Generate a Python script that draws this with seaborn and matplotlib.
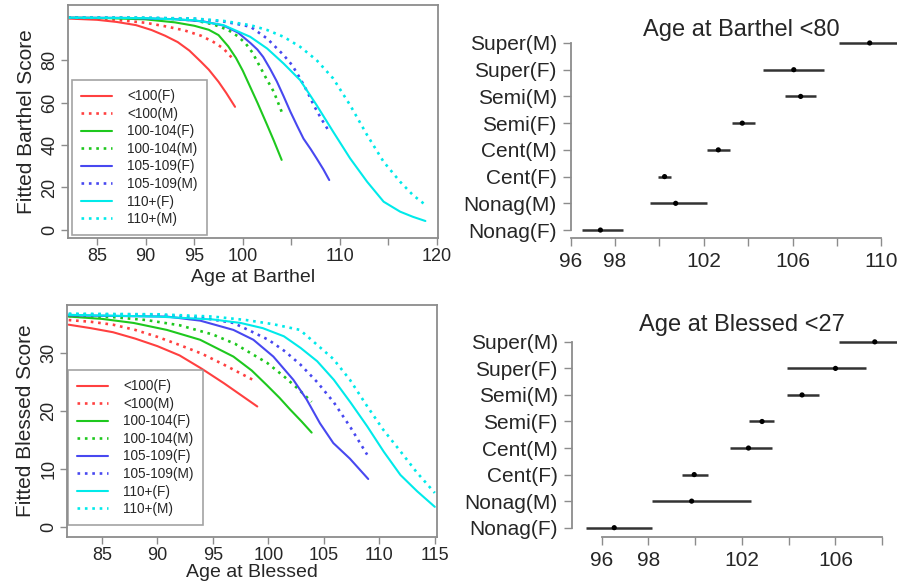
import matplotlib
matplotlib.use("Agg")
import matplotlib.pyplot as plt
import seaborn as sns
import pandas as pd

# --- Fitted Barthel curves (age, score) ---
b_lt100_f_age = [82, 85, 87, 89, 90.6, 92, 93.3, 94.5, 95.7, 96.5, 97.5, 98.3, 99.2]
b_lt100_f_val = [99.6, 99.0, 98.0, 96.5, 94.2, 91.5, 88.5, 84.5, 79.2, 75.5, 69.8, 64.5, 58.0]
b_lt100_m_age = [82, 86, 90, 92.3, 94, 95.7, 97, 98, 99]
b_lt100_m_val = [100, 99.4, 97.6, 95.7, 94.0, 91.5, 88.5, 85.5, 80.5]
b_100_f_age = [82, 86, 90, 93, 95, 96.5, 97.5, 98.5, 99.3, 100, 100.8, 101.5, 102.5, 103.2, 104]
b_100_f_val = [100, 99.8, 99.2, 97.8, 96.2, 94.3, 91.8, 86.5, 81, 75, 67, 60, 49.5, 42, 33]
b_100_m_age = [82, 88, 92, 95, 97, 98.5, 99.5, 100.3, 101, 101.7, 102.4, 103.2, 104]
b_100_m_val = [100, 99.9, 99.6, 98.8, 96.8, 94.2, 91.2, 87.8, 83.5, 77.5, 71.5, 65, 55.7]
b_105_f_age = [82, 88, 93, 96, 98, 99.5, 100.8, 101.5, 102.1, 102.8, 103.5, 104.2, 104.9,
               105.6, 106.25, 107, 107.6, 108.3, 108.9]
b_105_f_val = [100, 99.9, 99.3, 98.2, 96.3, 93, 88, 85, 81.5, 76, 70, 63, 55.7,
               49, 43, 38, 33.7, 28.5, 23.5]
b_105_m_age = [82, 90, 95, 98, 100, 100.8, 102.5, 104.2, 105.1, 105.9, 106.6, 107.3, 108, 108.8]
b_105_m_val = [100, 99.9, 99.5, 98.2, 96.5, 95.7, 90.2, 82.4, 77.5, 71.4, 65.5, 58.8, 53, 47]
b_110_f_age = [82, 90, 95, 98, 100.76, 102.5, 104.2, 105.9, 107.6, 109.3, 111.05, 112.8,
               114.5, 116.2, 117.5, 118.8]
b_110_f_val = [100, 99.8, 98.8, 96.5, 91, 85.5, 78.4, 70.6, 58.8, 46.3, 33.7, 22.7,
               13.3, 8.6, 6.2, 4.2]
b_110_m_age = [82, 90, 95, 98, 100.76, 102.5, 104.2, 105.9, 107.6, 109.3, 111.05, 112.8,
               114.5, 116.2, 117.5, 118.8]
b_110_m_val = [100, 100, 99.6, 98.5, 96.5, 94.2, 91, 86.3, 80, 71.4, 58.8, 44.7,
               32.1, 22.7, 16.5, 11.8]

# --- Fitted Blessed curves (age, score) ---
s_lt100_f_age = [82, 84, 86, 88, 90, 92, 94, 96, 97.5, 99]
s_lt100_f_val = [34.9, 34.3, 33.6, 32.5, 31.2, 29.6, 27.3, 24.8, 22.8, 20.8]
s_lt100_m_age = [82, 84, 86, 88, 90, 92, 94, 96, 97.5, 98.9]
s_lt100_m_val = [35.7, 35.4, 34.9, 34.0, 32.8, 31.4, 29.9, 28.0, 26.5, 25.1]
s_100_f_age = [82, 85, 87.85, 90.85, 93.85, 96.85, 98.5, 99.85, 101, 101.95, 103, 103.9]
s_100_f_val = [36.3, 35.9, 35.2, 34.0, 32.3, 29.4, 27.0, 24.5, 22.3, 20.3, 18.2, 16.3]
s_100_m_age = [82, 86, 89, 92, 95, 97, 98.4, 99.9, 101.4, 102.7, 103.9]
s_100_m_val = [36.4, 36.2, 35.7, 34.8, 33.2, 31.6, 30.0, 28.3, 26.0, 23.8, 21.6]
s_105_f_age = [82, 90.85, 93.85, 96.85, 98.65, 100.45, 102.25, 103.45, 104.65, 105.85, 107.35, 109]
s_105_f_val = [36.5, 36.3, 35.6, 34.0, 32.3, 29.4, 25.4, 22.0, 17.9, 14.5, 11.8, 8.3]
s_105_m_age = [82, 90, 94, 96.85, 98.4, 100, 101.5, 102.9, 104.4, 105.9, 107.4, 108.9]
s_105_m_val = [36.7, 36.6, 36.1, 35.2, 33.8, 32.3, 30.3, 28.0, 25.0, 21.5, 17.2, 12.5]
s_110_f_age = [82, 90, 95, 97.5, 99.5, 101.4, 102.9, 104.4, 105.9, 107.4, 108.9, 110.4,
               111.9, 113.4, 115]
s_110_f_val = [36.6, 36.3, 35.8, 35.2, 34.3, 32.9, 30.9, 28.6, 25.4, 21.5, 17.4, 13.0,
               9.0, 6.2, 3.5]
s_110_m_age = [82, 90, 95, 98, 100.4, 102.85, 104.35, 105.85, 107.35, 108.85, 110.35,
               111.85, 113.35, 115]
s_110_m_val = [36.8, 36.7, 36.3, 35.7, 35.0, 34.0, 31.5, 29.0, 25.4, 21.0, 16.8,
               13.2, 9.5, 5.9]

curve_labels = ["<100(F)", "<100(M)", "100-104(F)", "100-104(M)",
                "105-109(F)", "105-109(M)", "110+(F)", "110+(M)"]

# --- Age at which score falls below cut-off (estimate, lower, upper) ---
groups = ["Nonag(F)", "Nonag(M)", "Cent(F)", "Cent(M)",
          "Semi(F)", "Semi(M)", "Super(F)", "Super(M)"]
barthel_est = [97.34, 100.73, 100.23, 102.65, 103.73, 106.36, 106.05, 109.47]
barthel_lo = [96.53, 99.59, 99.93, 102.16, 103.28, 105.64, 104.66, 108.1]
barthel_hi = [98.36, 102.16, 100.53, 103.19, 104.29, 107.06, 107.4, 111.5]
blessed_est = [96.54, 99.85, 99.96, 102.28, 102.86, 104.57, 106.0, 107.68]
blessed_lo = [95.33, 98.16, 99.44, 101.48, 102.3, 103.93, 103.93, 106.15]
blessed_hi = [98.16, 102.38, 100.56, 103.29, 103.38, 105.3, 107.3, 109.5]

sns.set_style("white")
plt.rcParams["font.family"] = ["Liberation Sans", "DejaVu Sans"]

COLORS = ["#ff4040", "#ff4040", "#1ec81e", "#1ec81e",
          "#4848f0", "#4848f0", "#00eaea", "#00eaea"]
SOLID = "-"
DOTTED = (0, (1, 1.8))
BOX = "#8c8c8c"

fig = plt.figure(figsize=(8.97, 5.83), dpi=100)


def curve_panel(ax, curves, xlim, ylim, xticks, xlabels, yticks, xlabel, ylabel,
                legend_anchor, xlabelpad):
    for i, (ages, vals) in enumerate(curves):
        df = pd.DataFrame({"age": ages, "score": vals})
        sns.lineplot(data=df, x="age", y="score", ax=ax, color=COLORS[i],
                     linestyle=SOLID if i % 2 == 0 else DOTTED,
                     linewidth=1.5 if i % 2 == 0 else 1.9, label=curve_labels[i])
    ax.set_xlim(*xlim)
    ax.set_ylim(*ylim)
    ax.set_xticks(xticks)
    ax.set_xticklabels(xlabels)
    ax.set_yticks(yticks)
    for s in ax.spines.values():
        s.set_color(BOX)
        s.set_linewidth(1.3)
    ax.tick_params(axis="both", direction="out", length=5, width=1, color=BOX,
                   labelsize=13, pad=2, left=True, bottom=True)
    for lab in ax.get_yticklabels():
        lab.set_rotation(90)
        lab.set_va("center")
    ax.set_xlabel(xlabel, fontsize=14, labelpad=xlabelpad)
    ax.set_ylabel(ylabel, fontsize=15, labelpad=4)
    leg = ax.legend(loc="lower left", bbox_to_anchor=legend_anchor, fontsize=9.8,
                    frameon=True, fancybox=False, edgecolor=BOX, handlelength=2.3,
                    handletextpad=1.1, labelspacing=0.26, borderpad=0.65,
                    borderaxespad=0)
    leg.get_frame().set_linewidth(1.2)


def dot_panel(ax, est, lo, hi, xlim, xbounds, xticks, xlabels, ylim):
    pos = list(range(len(groups)))
    ax.hlines(pos, lo, hi, color="#333333", linewidth=1.8, zorder=2)
    sns.scatterplot(x=est, y=pos, ax=ax, color="black", s=14, edgecolor="none", zorder=3)
    ax.set_xlim(*xlim)
    ax.set_ylim(*ylim)
    ax.set_yticks(pos)
    ax.set_yticklabels(groups)
    ax.set_xticks(xticks)
    ax.set_xticklabels(xlabels)
    for side in ["top", "right"]:
        ax.spines[side].set_visible(False)
    ax.spines["left"].set_bounds(0, len(groups) - 1)
    ax.spines["bottom"].set_bounds(xbounds[0], xbounds[1])
    for side in ["left", "bottom"]:
        ax.spines[side].set_color(BOX)
        ax.spines[side].set_linewidth(1.3)
    ax.tick_params(axis="both", direction="out", length=6, width=1, color=BOX,
                   labelsize=15, pad=4, left=True, bottom=True)


barthel_curves = [(b_lt100_f_age, b_lt100_f_val), (b_lt100_m_age, b_lt100_m_val),
                  (b_100_f_age, b_100_f_val), (b_100_m_age, b_100_m_val),
                  (b_105_f_age, b_105_f_val), (b_105_m_age, b_105_m_val),
                  (b_110_f_age, b_110_f_val), (b_110_m_age, b_110_m_val)]
blessed_curves = [(s_lt100_f_age, s_lt100_f_val), (s_lt100_m_age, s_lt100_m_val),
                  (s_100_f_age, s_100_f_val), (s_100_m_age, s_100_m_val),
                  (s_105_f_age, s_105_f_val), (s_105_m_age, s_105_m_val),
                  (s_110_f_age, s_110_f_val), (s_110_m_age, s_110_m_val)]

ax1 = fig.add_axes([0.0758, 0.5918, 0.4125, 0.3997])
curve_panel(ax1, barthel_curves, (82, 120.1), (-3.8, 106), [85, 90, 95, 100, 105, 110, 115, 120],
            ["85", "90", "95", "100", "", "110", "", "120"], [0, 20, 40, 60, 80],
            "Age at Barthel", "Fitted Barthel Score", (0.011, 0.013), 3)

ax3 = fig.add_axes([0.0747, 0.0789, 0.4125, 0.398])
curve_panel(ax3, blessed_curves, (81.85, 115.2), (-1.7, 38.3), [85, 90, 95, 100, 105, 110, 115],
            ["85", "90", "95", "100", "105", "110", "115"], [0, 10, 20, 30],
            "Age at Blessed", "Fitted Blessed Score", (0.003, 0.052), 0)

ax2 = fig.add_axes([0.6362, 0.5912, 0.3638, 0.358])
dot_panel(ax2, barthel_est, barthel_lo, barthel_hi, (96, 110.7), (96, 110),
          [96, 98, 100, 102, 104, 106, 108, 110], ["96", "98", "", "102", "", "106", "", "110"],
          (-0.31, 7.5))

ax4 = fig.add_axes([0.6373, 0.0794, 0.3627, 0.357])
dot_panel(ax4, blessed_est, blessed_lo, blessed_hi, (94.72, 108.63), (96, 108),
          [96, 98, 100, 102, 104, 106, 108], ["96", "98", "", "102", "", "106", ""],
          (-0.34, 7.5))

fig.text(0.826, 0.9485, "Age at Barthel <80", ha="center", va="center", fontsize=17)
fig.text(0.827, 0.4425, "Age at Blessed <27", ha="center", va="center", fontsize=17)

fig.savefig("out.png", dpi=100)
